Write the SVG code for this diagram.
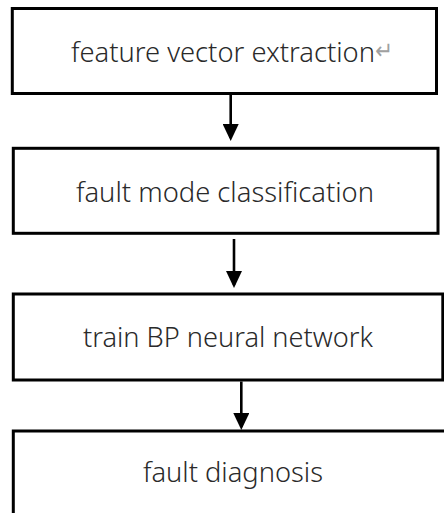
<svg xmlns="http://www.w3.org/2000/svg" width="444" height="513" viewBox="0 0 444 513">
<style>
.box{fill:#fff;stroke:#000;stroke-width:3}
.lbl{font-family:"Noto Sans","Open Sans","DejaVu Sans",sans-serif;font-size:27px;font-weight:300;fill:#2a2a2a}
.ret{font-family:"DejaVu Sans",sans-serif;font-size:24px;fill:#a0a0a0}
.conn{stroke:#000;stroke-width:2.6;fill:none;marker-end:url(#ah)}
</style>
<defs>
<marker id="ah" markerUnits="userSpaceOnUse" viewBox="0 0 17 16" refX="14" refY="8" markerWidth="17" markerHeight="16" orient="auto">
<path d="M0,0 L17,8 L0,16 z" fill="#000"/>
</marker>
</defs>
<rect width="444" height="513" fill="#fff"/>
<g id="connectors">
<line class="conn" x1="230.7" y1="95" x2="230.7" y2="138"/>
<line class="conn" x1="234" y1="239" x2="234" y2="285"/>
<line class="conn" x1="241.3" y1="381.5" x2="241.3" y2="427"/>
</g>
<g id="n1">
<rect class="box" x="12.3" y="8.5" width="424.2" height="85"/>
<text class="lbl" x="71" y="62" textLength="304" lengthAdjust="spacingAndGlyphs">feature vector extraction</text>
<text class="ret" x="375" y="59" textLength="18" lengthAdjust="spacingAndGlyphs">↵</text>
</g>
<g id="n2">
<rect class="box" x="13.3" y="148.3" width="424.7" height="85"/>
<text class="lbl" x="76" y="202" textLength="298" lengthAdjust="spacingAndGlyphs">fault mode classification</text>
</g>
<g id="n3">
<rect class="box" x="13.3" y="294" width="429.5" height="86"/>
<text class="lbl" x="83" y="347" textLength="290" lengthAdjust="spacingAndGlyphs">train BP neural network</text>
</g>
<g id="n4">
<rect class="box" x="13.3" y="431" width="440" height="100"/>
<text class="lbl" x="143" y="482" textLength="180" lengthAdjust="spacingAndGlyphs">fault diagnosis</text>
</g>
</svg>
